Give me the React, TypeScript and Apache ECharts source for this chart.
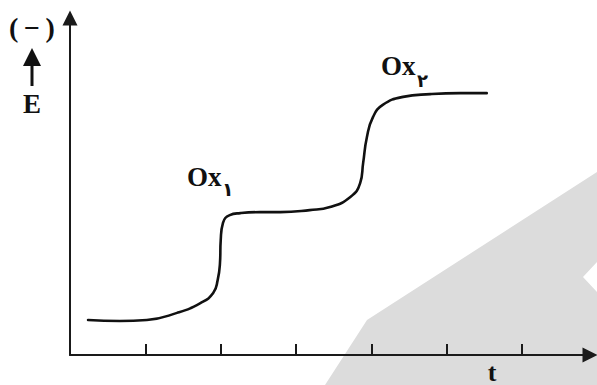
import React, { useEffect, useRef } from "react";
import * as echarts from "echarts";

const tValues = [0.24, 0.66, 1.02, 1.42, 1.73, 1.9, 1.96, 1.99, 2.0, 2.03, 2.12, 2.26, 2.52, 2.79, 3.18, 3.45, 3.72, 3.85, 3.89, 3.94, 4.02, 4.15, 4.42, 4.78, 5.18, 5.53];
const eValues = [1.04, 1.01, 1.04, 1.25, 1.54, 1.84, 2.23, 2.73, 3.41, 3.92, 4.15, 4.21, 4.24, 4.24, 4.3, 4.39, 4.69, 5.1, 5.7, 6.47, 7.06, 7.42, 7.66, 7.74, 7.77, 7.77];
const tickValues = [1, 2, 3, 4, 5, 6];
const waveLabels = ["Ox", "Ox"];
const waveSubs = ["۱", "۲"];

const SERIF = "'Liberation Serif', 'DejaVu Serif', serif";

export default function App() {
  const ref = useRef<HTMLDivElement>(null);
  useEffect(() => {
    if (!ref.current) return;
    const chart = echarts.init(ref.current, null, { renderer: "svg" });
    const data = tValues.map((t, i) => [t, eValues[i]]);
    chart.setOption({
      animation: false,
      backgroundColor: "#ffffff",
      grid: { left: 70, right: 7, top: 18, bottom: 30 },
      xAxis: {
        type: "value",
        min: 0,
        max: 6.9,
        axisLine: {
          show: true,
          symbol: ["none", "triangle"],
          symbolSize: [15, 15],
          lineStyle: { color: "#1a1a1a", width: 2 },
        },
        axisTick: {
          show: true,
          inside: true,
          length: 11,
          customValues: tickValues,
          lineStyle: { color: "#1a1a1a", width: 2 },
        },
        axisLabel: { show: false },
        splitLine: { show: false },
      },
      yAxis: {
        type: "value",
        min: 0,
        max: 10,
        axisLine: {
          show: true,
          symbol: ["none", "triangle"],
          symbolSize: [15, 15],
          lineStyle: { color: "#1a1a1a", width: 2 },
        },
        axisTick: { show: false },
        axisLabel: { show: false },
        splitLine: { show: false },
      },
      series: [
        {
          type: "line",
          data,
          smooth: 0.5,
          symbol: "none",
          lineStyle: { color: "#111111", width: 2.6, cap: "round" },
          z: 5,
        },
      ],
      graphic: [
        {
          type: "polygon",
          z: -10,
          silent: true,
          shape: {
            points: [
              [325, 385], [367, 320], [597, 172], [597, 262], [583, 277], [597, 292], [597, 385],
            ],
          },
          style: { fill: "#dcdcdc" },
        },
        {
          type: "text",
          x: 32, y: 27,
          style: { text: "(\u2009−\u2009)", font: `bold 28px ${SERIF}`, fill: "#111", align: "center", verticalAlign: "middle" },
        },
        {
          type: "line",
          shape: { x1: 32, y1: 86, x2: 32, y2: 62 },
          style: { stroke: "#111", lineWidth: 3 },
        },
        {
          type: "polygon",
          shape: { points: [[23, 66], [32, 48], [41, 66]] },
          style: { fill: "#111" },
        },
        {
          type: "text",
          x: 32, y: 104,
          style: { text: "E", font: `bold 27px ${SERIF}`, fill: "#111", align: "center", verticalAlign: "middle" },
        },
        {
          type: "text",
          x: 187, y: 177,
          style: { text: waveLabels[0], font: `bold 27px ${SERIF}`, fill: "#111", align: "left", verticalAlign: "middle" },
        },
        {
          type: "text",
          x: 222, y: 189,
          style: { text: waveSubs[0], font: `bold 19px 'DejaVu Sans', sans-serif`, fill: "#111", align: "left", verticalAlign: "middle" },
        },
        {
          type: "text",
          x: 381, y: 66,
          style: { text: waveLabels[1], font: `bold 27px ${SERIF}`, fill: "#111", align: "left", verticalAlign: "middle" },
        },
        {
          type: "text",
          x: 417, y: 80,
          style: { text: waveSubs[1], font: `bold 18px 'DejaVu Sans', sans-serif`, fill: "#111", align: "left", verticalAlign: "middle" },
        },
        {
          type: "text",
          x: 492, y: 385,
          style: { text: "t", font: `bold 26px ${SERIF}`, fill: "#111", align: "center", verticalAlign: "bottom" },
        },
      ],
    });
    return () => chart.dispose();
  }, []);
  return <div ref={ref} style={{ position: "fixed", left: 0, top: 0, width: 597, height: 385 }} />;
}
